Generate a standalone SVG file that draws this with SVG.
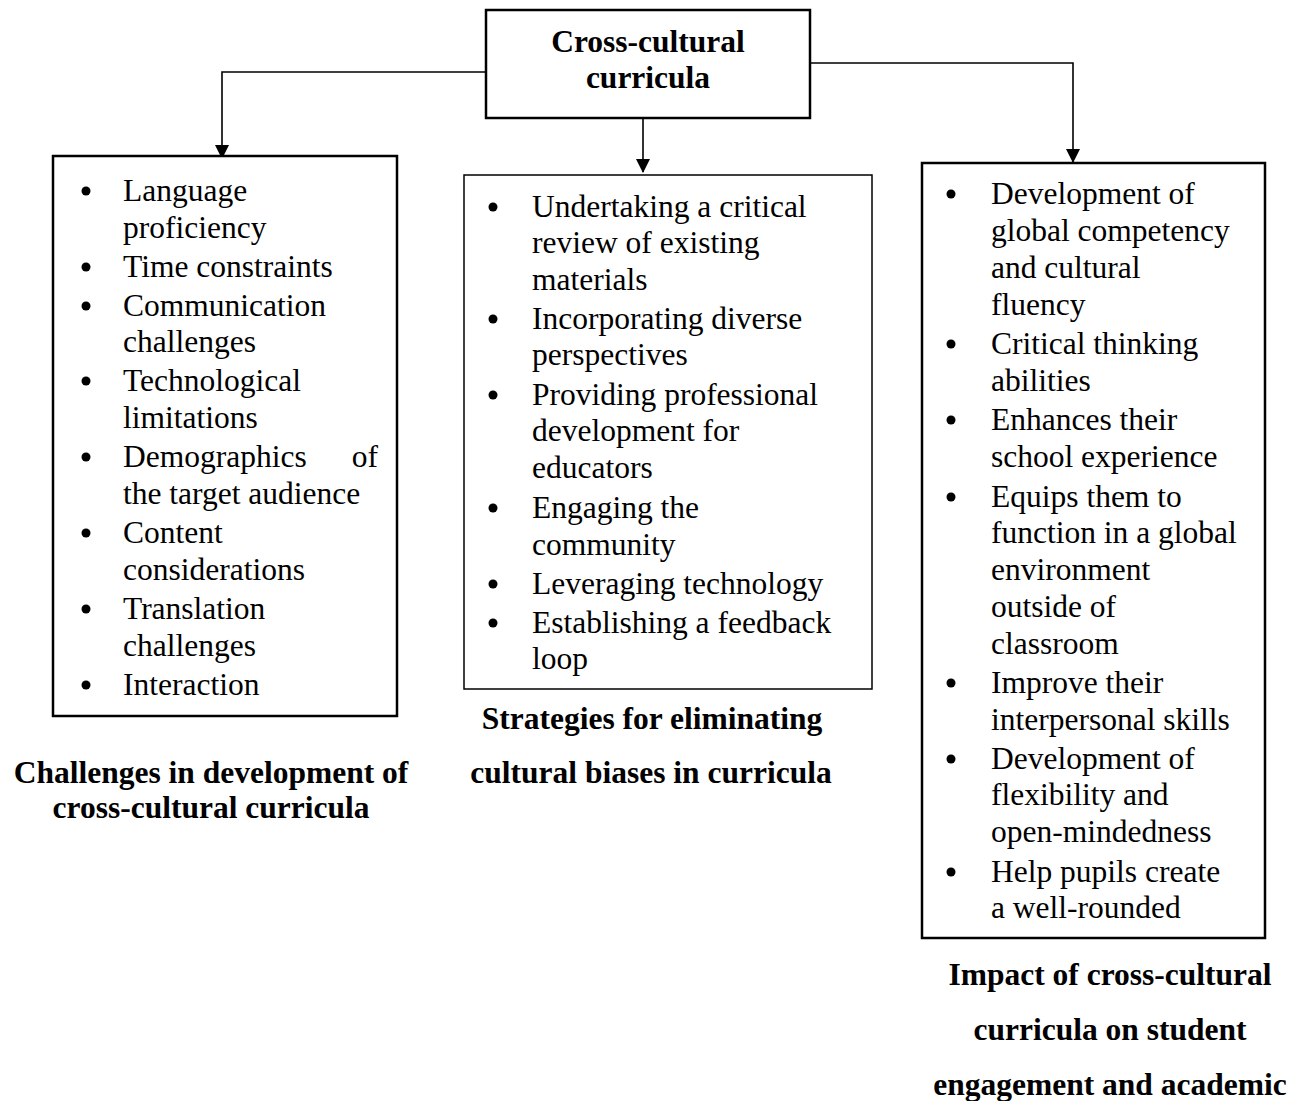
<svg xmlns="http://www.w3.org/2000/svg" width="1298" height="1101" viewBox="0 0 1298 1101">
<style>
.box{fill:#fff;stroke:#000;stroke-width:2.5}
.thin{stroke-width:1.5}
.t{font-family:"Liberation Serif","Times New Roman",serif;font-size:31.5px;fill:#000}
.b{font-family:"Liberation Serif","Times New Roman",serif;font-size:31.5px;font-weight:bold;fill:#000}
.c{fill:none;stroke:#000;stroke-width:1.6}
</style>
<defs>
<marker id="ah" markerWidth="14" markerHeight="14" refX="7" refY="13" orient="0" markerUnits="userSpaceOnUse" viewBox="0 0 14 14">
<path d="M0,0 L14,0 L7,14 Z" fill="#000"/>
</marker>
</defs>
<rect width="1298" height="1101" fill="#fff"/>
<g id="connectors">
<path class="c" d="M486,72 H222 V158" marker-end="url(#ah)"/>
<path class="c" d="M643,118 V172" marker-end="url(#ah)"/>
<path class="c" d="M810,63 H1073 V162" marker-end="url(#ah)"/>
</g>
<g id="root">
<rect class="box" x="486" y="10" width="324" height="108"/>
<text class="b" x="648" y="52" text-anchor="middle">Cross-cultural</text>
<text class="b" x="648" y="88" text-anchor="middle">curricula</text>
</g>
<g id="challenges">
<rect class="box" x="53" y="156" width="344" height="560"/>
<g fill="#000">
<circle cx="86" cy="191" r="4.5"/><circle cx="86" cy="267" r="4.5"/><circle cx="86" cy="306" r="4.5"/><circle cx="86" cy="381" r="4.5"/><circle cx="86" cy="457" r="4.5"/><circle cx="86" cy="533" r="4.5"/><circle cx="86" cy="609" r="4.5"/><circle cx="86" cy="685" r="4.5"/>
</g>
<text class="t" x="123" y="201">Language</text>
<text class="t" x="123" y="238">proficiency</text>
<text class="t" x="123" y="277">Time constraints</text>
<text class="t" x="123" y="316">Communication</text>
<text class="t" x="123" y="352">challenges</text>
<text class="t" x="123" y="391">Technological</text>
<text class="t" x="123" y="428">limitations</text>
<text class="t" x="123" y="467">Demographics</text>
<text class="t" x="378" y="467" text-anchor="end">of</text>
<text class="t" x="123" y="504">the target audience</text>
<text class="t" x="123" y="543">Content</text>
<text class="t" x="123" y="580">considerations</text>
<text class="t" x="123" y="619">Translation</text>
<text class="t" x="123" y="656">challenges</text>
<text class="t" x="123" y="695">Interaction</text>
<text class="b" x="211" y="783" text-anchor="middle">Challenges in development of</text>
<text class="b" x="211" y="818" text-anchor="middle">cross-cultural curricula</text>
</g>
<g id="strategies">
<rect class="box thin" x="464" y="175" width="408" height="514"/>
<g fill="#000">
<circle cx="493" cy="207" r="4.5"/><circle cx="493" cy="319" r="4.5"/><circle cx="493" cy="395" r="4.5"/><circle cx="493" cy="508" r="4.5"/><circle cx="493" cy="584" r="4.5"/><circle cx="493" cy="623" r="4.5"/>
</g>
<text class="t" x="532" y="217">Undertaking a critical</text>
<text class="t" x="532" y="253">review of existing</text>
<text class="t" x="532" y="290">materials</text>
<text class="t" x="532" y="329">Incorporating diverse</text>
<text class="t" x="532" y="365">perspectives</text>
<text class="t" x="532" y="405">Providing professional</text>
<text class="t" x="532" y="441">development for</text>
<text class="t" x="532" y="478">educators</text>
<text class="t" x="532" y="518">Engaging the</text>
<text class="t" x="532" y="555">community</text>
<text class="t" x="532" y="594">Leveraging technology</text>
<text class="t" x="532" y="633">Establishing a feedback</text>
<text class="t" x="532" y="669">loop</text>
<text class="b" x="652" y="729" text-anchor="middle">Strategies for eliminating</text>
<text class="b" x="651" y="783" text-anchor="middle">cultural biases in curricula</text>
</g>
<g id="impact">
<rect class="box" x="922" y="163" width="343" height="775"/>
<g fill="#000">
<circle cx="951" cy="194" r="4.5"/><circle cx="951" cy="344" r="4.5"/><circle cx="951" cy="420" r="4.5"/><circle cx="951" cy="497" r="4.5"/><circle cx="951" cy="683" r="4.5"/><circle cx="951" cy="759" r="4.5"/><circle cx="951" cy="872" r="4.5"/>
</g>
<text class="t" x="991" y="204">Development of</text>
<text class="t" x="991" y="241">global competency</text>
<text class="t" x="991" y="278">and cultural</text>
<text class="t" x="991" y="315">fluency</text>
<text class="t" x="991" y="354">Critical thinking</text>
<text class="t" x="991" y="391">abilities</text>
<text class="t" x="991" y="430">Enhances their</text>
<text class="t" x="991" y="467">school experience</text>
<text class="t" x="991" y="507">Equips them to</text>
<text class="t" x="991" y="543">function in a global</text>
<text class="t" x="991" y="580">environment</text>
<text class="t" x="991" y="617">outside of</text>
<text class="t" x="991" y="654">classroom</text>
<text class="t" x="991" y="693">Improve their</text>
<text class="t" x="991" y="730">interpersonal skills</text>
<text class="t" x="991" y="769">Development of</text>
<text class="t" x="991" y="805">flexibility and</text>
<text class="t" x="991" y="842">open-mindedness</text>
<text class="t" x="991" y="882">Help pupils create</text>
<text class="t" x="991" y="918">a well-rounded</text>
<text class="b" x="1110" y="985" text-anchor="middle">Impact of cross-cultural</text>
<text class="b" x="1110" y="1040" text-anchor="middle">curricula on student</text>
<text class="b" x="1110" y="1095" text-anchor="middle">engagement and academic</text>
</g>
</svg>
